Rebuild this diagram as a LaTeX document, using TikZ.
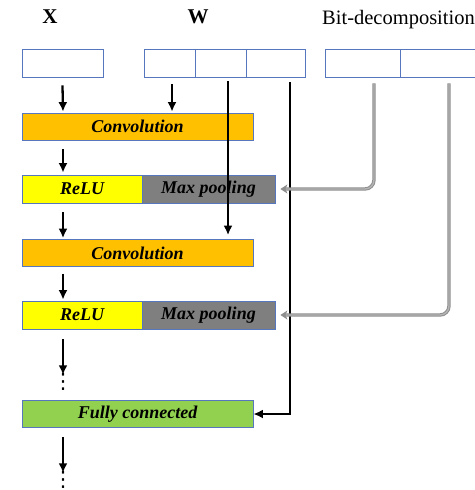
\documentclass[tikz,border=0pt]{standalone}
\usepackage{fontspec}
\setmainfont{Liberation Serif}
\newfontfamily\symfont{DejaVu Sans}
\usetikzlibrary{arrows.meta}
\definecolor{boxblue}{HTML}{5677BD}
\definecolor{convorange}{HTML}{FFC000}
\definecolor{reluyellow}{HTML}{FFFF00}
\definecolor{poolgray}{HTML}{7F7F7F}
\definecolor{fcgreen}{HTML}{92D050}
\definecolor{bitgray}{HTML}{8E8E8E}
\definecolor{bitlight}{HTML}{B4B4B4}
\begin{document}
\begin{tikzpicture}[x=1pt,y=-1pt,
    cell/.style={draw=boxblue, line width=0.8pt, minimum height=28pt, inner sep=0pt},
    layer/.style={draw=boxblue, line width=0.8pt, minimum height=27pt, inner sep=0pt,
        font=\fontsize{18}{20}\selectfont\bfseries\itshape},
    flow/.style={-{Latex[length=9.5pt,width=9pt]}, line width=2.3pt},
    dotcol/.style={font=\symfont\fontsize{21}{21}\selectfont, inner sep=0pt},
    bitline/.style={-{Stealth[length=7pt,width=9pt,inset=2pt,fill=bitgray]}, draw=bitgray,
        line width=1pt, double=bitlight, double distance=1.4pt, rounded corners=9pt}]
    \useasboundingbox (0,0) rectangle (474,490);

    % Draw labels
    \node[font=\fontsize{21}{23}\selectfont\bfseries] (xlab) at (50,17) {X};
    \node[font=\fontsize{21}{23}\selectfont\bfseries] (wlab) at (198,17) {W};
    \node[font=\fontsize{20.5}{22}\selectfont, anchor=west, inner sep=0pt] (blab) at (322,20) {Bit-decomposition};

    % Draw input cells
    \node[cell, minimum width=81pt] (xbox) at (62.5,63) {};
    \node[cell, minimum width=51pt] (w1) at (169.5,63) {};
    \node[cell, minimum width=51pt] (w2) at (220.5,63) {};
    \node[cell, minimum width=59pt] (w3) at (275.5,63) {};
    \node[cell, minimum width=75pt] (b1) at (362.5,63) {};
    \node[cell, minimum width=80pt] (b2) at (440,63) {};

    % Draw layers
    \node[layer, fill=convorange, minimum width=231pt] (conv1) at (137.5,126.5) {Convolution};
    \node[layer, fill=reluyellow, minimum width=120pt, minimum height=28pt] (relu1) at (82,189) {ReLU};
    \node[layer, fill=poolgray, minimum width=133pt, minimum height=28pt] (pool1) at (208.5,189) {Max pooling};
    \node[layer, fill=convorange, minimum width=231pt] (conv2) at (137.5,253) {Convolution};
    \node[layer, fill=reluyellow, minimum width=120pt, minimum height=28pt] (relu2) at (82,315) {ReLU};
    \node[layer, fill=poolgray, minimum width=133pt, minimum height=28pt] (pool2) at (208.5,315) {Max pooling};
    \node[layer, fill=fcgreen, minimum width=231pt] (fc) at (137.5,414) {Fully connected};

    % Draw dots
    \node[dotcol] (dots1) at (63,381.5) {⋮};
    \node[dotcol] (dots2) at (63,479.5) {⋮};

    % Draw data flow
    \draw[flow] ([yshift=-8pt]xbox.south) -- ([xshift=-74.5pt,yshift=1pt]conv1.north);
    \draw[flow] ([xshift=2.5pt,yshift=-7pt]w1.south) -- ([xshift=34.5pt,yshift=1pt]conv1.north);
    \draw[flow] ([xshift=-74.5pt,yshift=-9pt]conv1.south) -- ([xshift=-19pt,yshift=2pt]relu1.north);
    \draw[flow] ([xshift=-19pt,yshift=-9pt]relu1.south) -- ([xshift=-74.5pt,yshift=1pt]conv2.north);
    \draw[flow] ([xshift=-74.5pt,yshift=-7pt]conv2.south) -- ([xshift=-19pt,yshift=1pt]relu2.north);
    \draw[flow] ([xshift=-19pt,yshift=-10pt]relu2.south) -- ([yshift=-2pt]dots1.north);
    \draw[flow] ([xshift=-74.5pt,yshift=-9pt]fc.south) -- ([yshift=-2pt]dots2.north);

    % Draw weight lines
    \draw[flow] ([xshift=7.5pt,yshift=-4pt]w2.south) -- ([xshift=90.5pt,yshift=4pt]conv2.north);
    \draw[flow, -] ([xshift=14.5pt,yshift=-5pt]w3.south) -- ([xshift=14.5pt]w3.south |- fc.east)
        -- ([xshift=37pt]fc.east);
    \draw[flow] ([xshift=37pt]fc.east) -- (fc.east);

    % Draw bit-decomposition lines
    \draw[bitline] ([xshift=11.5pt,yshift=-6pt]b1.south) -- ([xshift=11.5pt]b1.south |- pool1.east)
        -- ([xshift=5pt]pool1.east);
    \draw[bitline] ([xshift=9pt,yshift=-6pt]b2.south) -- ([xshift=9pt]b2.south |- pool2.east)
        -- ([xshift=5pt]pool2.east);
\end{tikzpicture}
\end{document}
